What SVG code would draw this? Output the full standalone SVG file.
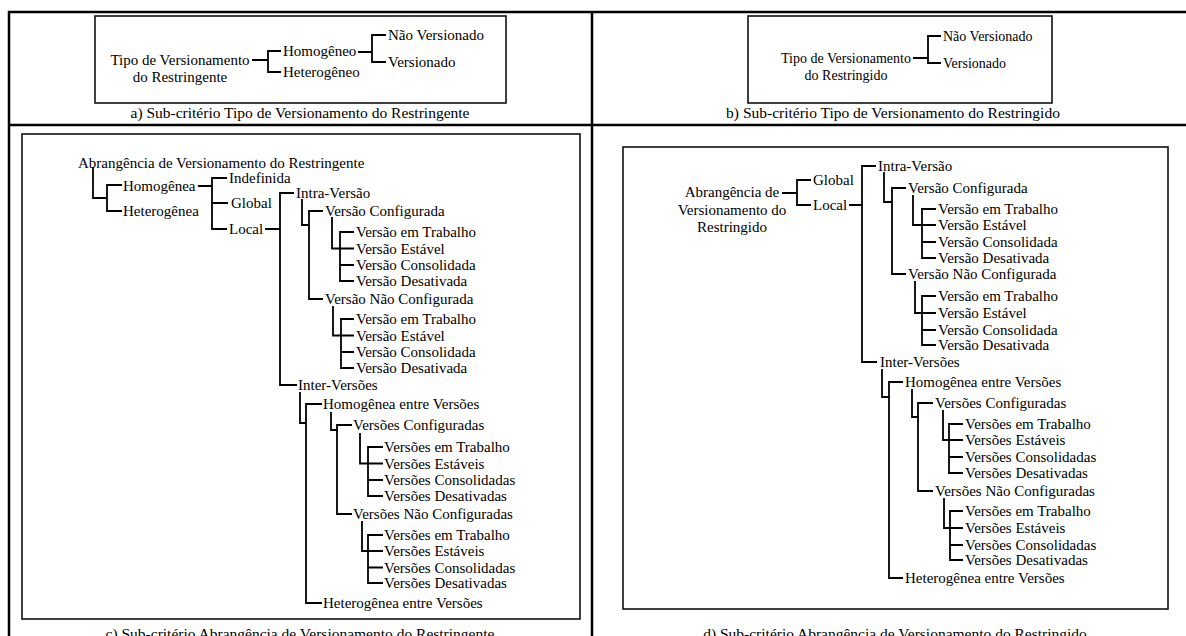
<svg xmlns="http://www.w3.org/2000/svg" width="1186" height="636" viewBox="0 0 1186 636">
<style>
.t{font-family:"Liberation Serif","Times New Roman",serif;font-size:15px;fill:#000}
.s{font-size:14px}
.m{text-anchor:middle}
.cap{font-family:"Liberation Serif","Times New Roman",serif;font-size:15.5px;fill:#000;text-anchor:middle}
.ln{stroke:#000;stroke-width:1.8;fill:none}
.box{stroke:#111;stroke-width:1.6;fill:none}
.tbl{stroke:#000;stroke-width:2.5;fill:none}
</style>
<rect width="1186" height="636" fill="#fff"/>
<g id="table">
<path class="tbl" d="M8 12 H1186 M9 11 V636 M592 12 V636 M9 125 H1186"/>
</g>
<g id="frames">
<rect class="box" x="95" y="16" width="411" height="87"/>
<rect class="box" x="748" y="16" width="304" height="87"/>
<rect class="box" x="22" y="134" width="558" height="485"/>
<rect class="box" x="623" y="147" width="545" height="462"/>
</g>
<g id="connectors">
<path class="ln" d="M252 60 H268 M281 51 H268 V72 H281 M358 52 H372 M386 35 H372 V62 H386"/>
<path class="ln" d="M913 58 H928 M941 36 H928 V63 H941"/>
<path class="ln" d="M93 167 V198 H107 M122 185 H107 V211 H122 M198 186 H212 M227 178 H212 V229 H227 M212 203 H228 M265 229 H280 M294 193 H280 V385 H297"/>
<path class="ln" d="M302 199 V225 H309 M323 211 H309 V299 H323"/>
<path class="ln" d="M332 217 V248.5 H340 M354 232 H340 V281 H354 M340 248.5 H354 M340 265 H354"/>
<path class="ln" d="M333 306 V335.5 H341 M354 319 H341 V368 H354 M341 335.5 H354 M341 352 H354"/>
<path class="ln" d="M300 392 V423 H306 M322 404 H306 V603 H322"/>
<path class="ln" d="M331 412 V430 H337 M352 425 H337 V514 H352"/>
<path class="ln" d="M360 433 V463.5 H368 M383 447 H368 V496 H383 M368 463.5 H383 M368 480 H383"/>
<path class="ln" d="M362 521 V551 H368 M383 535 H368 V583 H383 M368 551 H383 M368 567.5 H383"/>
<path class="ln" d="M782 193 H797 M811 180 H797 V205 H811 M849 205 H862 M876 166 H862 V362 H877"/>
<path class="ln" d="M884 172 V202 H892 M906 188 H892 V274 H906"/>
<path class="ln" d="M913 195 V225 H922 M936 209 H922 V258 H936 M922 225 H936 M922 242 H936"/>
<path class="ln" d="M915 281 V313 H922 M936 296 H922 V345 H936 M922 313 H936 M922 330 H936"/>
<path class="ln" d="M882 369 V397 H889 M903 382 H889 V578 H903"/>
<path class="ln" d="M912 389 V417 H918 M933 403 H918 V491 H933"/>
<path class="ln" d="M943 410 V440 H949 M963 424 H949 V473 H963 M949 440 H963 M949 457 H963"/>
<path class="ln" d="M944 498 V528 H950 M963 511 H950 V560 H963 M950 528 H963 M950 545 H963"/>
</g>
<g id="panel-a">
<g id="a-root"><text class="t m" x="180" y="65">Tipo de Versionamento</text><text class="t m" x="180" y="82">do Restringente</text></g>
<g id="a-homog"><text class="t" x="283" y="56">Homogêneo</text></g>
<g id="a-heter"><text class="t" x="283" y="77">Heterogêneo</text></g>
<g id="a-naover"><text class="t" x="388" y="40">Não Versionado</text></g>
<g id="a-vers"><text class="t" x="388" y="67">Versionado</text></g>
<g id="a-cap"><text class="cap" x="300" y="118">a) Sub-critério Tipo de Versionamento do Restringente</text></g>
</g>
<g id="panel-b">
<g id="b-root"><text class="t s m" x="846" y="63">Tipo de Versionamento</text><text class="t s m" x="846" y="80">do Restringido</text></g>
<g id="b-naover"><text class="t s" x="943" y="41">Não Versionado</text></g>
<g id="b-vers"><text class="t s" x="943" y="68">Versionado</text></g>
<g id="b-cap"><text class="cap" x="893" y="118">b) Sub-critério Tipo de Versionamento do Restringido</text></g>
</g>
<g id="panel-c">
<g id="c-root"><text class="t" x="78" y="168">Abrangência de Versionamento do Restringente</text></g>
<g id="c-homog"><text class="t" x="123" y="191">Homogênea</text></g>
<g id="c-heter"><text class="t" x="123" y="216">Heterogênea</text></g>
<g id="c-indef"><text class="t" x="229" y="183">Indefinida</text></g>
<g id="c-global"><text class="t" x="231" y="208">Global</text></g>
<g id="c-local"><text class="t" x="229" y="234">Local</text></g>
<g id="c-intra"><text class="t" x="296" y="198">Intra-Versão</text></g>
<g id="c-vconf"><text class="t" x="325" y="216">Versão Configurada</text></g>
<g id="c-vconf-1"><text class="t" x="356" y="237">Versão em Trabalho</text></g>
<g id="c-vconf-2"><text class="t" x="356" y="253.5">Versão Estável</text></g>
<g id="c-vconf-3"><text class="t" x="356" y="270">Versão Consolidada</text></g>
<g id="c-vconf-4"><text class="t" x="356" y="286">Versão Desativada</text></g>
<g id="c-vnconf"><text class="t" x="325" y="304">Versão Não Configurada</text></g>
<g id="c-vnconf-1"><text class="t" x="356" y="324">Versão em Trabalho</text></g>
<g id="c-vnconf-2"><text class="t" x="356" y="340.5">Versão Estável</text></g>
<g id="c-vnconf-3"><text class="t" x="356" y="357">Versão Consolidada</text></g>
<g id="c-vnconf-4"><text class="t" x="356" y="373">Versão Desativada</text></g>
<g id="c-inter"><text class="t" x="298" y="390">Inter-Versões</text></g>
<g id="c-homent"><text class="t" x="323" y="409">Homogênea entre Versões</text></g>
<g id="c-vsconf"><text class="t" x="353" y="430">Versões Configuradas</text></g>
<g id="c-vsconf-1"><text class="t" x="384" y="452">Versões em Trabalho</text></g>
<g id="c-vsconf-2"><text class="t" x="384" y="468.5">Versões Estáveis</text></g>
<g id="c-vsconf-3"><text class="t" x="384" y="485">Versões Consolidadas</text></g>
<g id="c-vsconf-4"><text class="t" x="384" y="501">Versões Desativadas</text></g>
<g id="c-vsnconf"><text class="t" x="353" y="519">Versões Não Configuradas</text></g>
<g id="c-vsnconf-1"><text class="t" x="384" y="540">Versões em Trabalho</text></g>
<g id="c-vsnconf-2"><text class="t" x="384" y="556">Versões Estáveis</text></g>
<g id="c-vsnconf-3"><text class="t" x="384" y="572.5">Versões Consolidadas</text></g>
<g id="c-vsnconf-4"><text class="t" x="384" y="588">Versões Desativadas</text></g>
<g id="c-hetent"><text class="t" x="323" y="608">Heterogênea entre Versões</text></g>
<g id="c-cap"><text class="cap" x="300" y="639">c) Sub-critério Abrangência de Versionamento do Restringente</text></g>
</g>
<g id="panel-d">
<g id="d-root"><text class="t m" x="732" y="197">Abrangência de</text><text class="t m" x="732" y="215">Versionamento do</text><text class="t m" x="732" y="232">Restringido</text></g>
<g id="d-global"><text class="t" x="813" y="185">Global</text></g>
<g id="d-local"><text class="t" x="813" y="210">Local</text></g>
<g id="d-intra"><text class="t" x="878" y="171">Intra-Versão</text></g>
<g id="d-vconf"><text class="t" x="908" y="193">Versão Configurada</text></g>
<g id="d-vconf-1"><text class="t" x="938" y="214">Versão em Trabalho</text></g>
<g id="d-vconf-2"><text class="t" x="938" y="230">Versão Estável</text></g>
<g id="d-vconf-3"><text class="t" x="938" y="247">Versão Consolidada</text></g>
<g id="d-vconf-4"><text class="t" x="938" y="263">Versão Desativada</text></g>
<g id="d-vnconf"><text class="t" x="908" y="279">Versão Não Configurada</text></g>
<g id="d-vnconf-1"><text class="t" x="938" y="301">Versão em Trabalho</text></g>
<g id="d-vnconf-2"><text class="t" x="938" y="318">Versão Estável</text></g>
<g id="d-vnconf-3"><text class="t" x="938" y="335">Versão Consolidada</text></g>
<g id="d-vnconf-4"><text class="t" x="938" y="350">Versão Desativada</text></g>
<g id="d-inter"><text class="t" x="880" y="367">Inter-Versões</text></g>
<g id="d-homent"><text class="t" x="905" y="387">Homogênea entre Versões</text></g>
<g id="d-vsconf"><text class="t" x="935" y="408">Versões Configuradas</text></g>
<g id="d-vsconf-1"><text class="t" x="965" y="429">Versões em Trabalho</text></g>
<g id="d-vsconf-2"><text class="t" x="965" y="445">Versões Estáveis</text></g>
<g id="d-vsconf-3"><text class="t" x="965" y="462">Versões Consolidadas</text></g>
<g id="d-vsconf-4"><text class="t" x="965" y="478">Versões Desativadas</text></g>
<g id="d-vsnconf"><text class="t" x="935" y="496">Versões Não Configuradas</text></g>
<g id="d-vsnconf-1"><text class="t" x="965" y="516">Versões em Trabalho</text></g>
<g id="d-vsnconf-2"><text class="t" x="965" y="533">Versões Estáveis</text></g>
<g id="d-vsnconf-3"><text class="t" x="965" y="550">Versões Consolidadas</text></g>
<g id="d-vsnconf-4"><text class="t" x="965" y="565">Versões Desativadas</text></g>
<g id="d-hetent"><text class="t" x="905" y="583">Heterogênea entre Versões</text></g>
<g id="d-cap"><text class="cap" x="895" y="639">d) Sub-critério Abrangência de Versionamento do Restringido</text></g>
</g>
</svg>
